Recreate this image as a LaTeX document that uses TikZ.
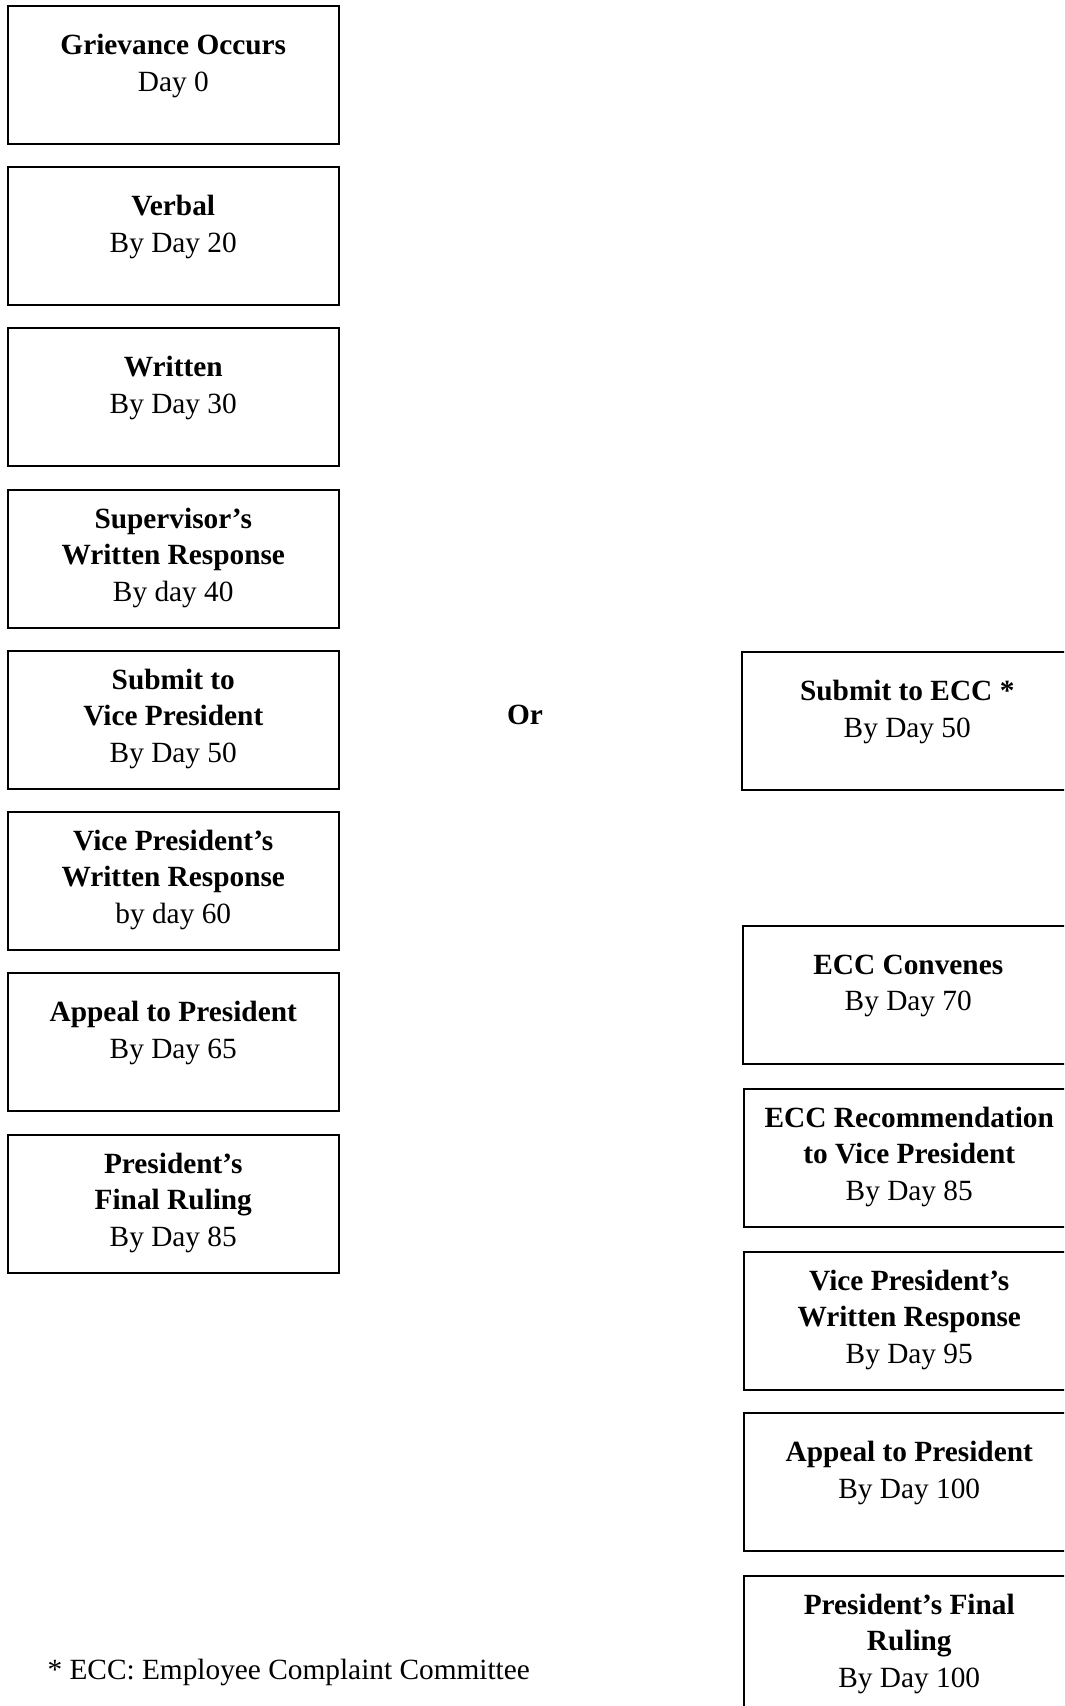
\documentclass[tikz,border=0pt]{standalone}
\usepackage{fontspec}
\setmainfont{Liberation Serif}
\begin{document}
\begin{tikzpicture}[x=0.375pt, y=-0.375pt,
	box/.style={draw, line width=0.6pt, anchor=north west, minimum width=124.1pt, minimum height=51.75pt, inner sep=0pt},
	lbl/.style={anchor=north, align=center, inner sep=0pt, font=\fontsize{11}{13.7}\selectfont}]
	\useasboundingbox (0,0) rectangle (1064,1706);
	\clip (0,0) rectangle (1064,1706);
	% left column
	\node[box] (grv) at (7,5) {};
	\node[lbl] (grvt) at ([yshift=-10.9pt]grv.north) {\textbf{Grievance Occurs}\\Day 0};
	\node[box] (verb) at (7,166) {};
	\node[lbl] (verbt) at ([yshift=-10.9pt]verb.north) {\textbf{Verbal}\\By Day 20};
	\node[box] (writ) at (7,327) {};
	\node[lbl] (writt) at ([yshift=-10.9pt]writ.north) {\textbf{Written}\\By Day 30};
	\node[box] (sup) at (7,489) {};
	\node[lbl] (supt) at ([yshift=-6.8pt]sup.north) {\textbf{Supervisor’s}\\\textbf{Written Response}\\By day 40};
	\node[box] (svp) at (7,650) {};
	\node[lbl] (svpt) at ([yshift=-6.8pt]svp.north) {\textbf{Submit to}\\\textbf{Vice President}\\By Day 50};
	\node[box] (vpr) at (7,811) {};
	\node[lbl] (vprt) at ([yshift=-6.8pt]vpr.north) {\textbf{Vice President’s}\\\textbf{Written Response}\\by day 60};
	\node[box] (app) at (7,972) {};
	\node[lbl] (appt) at ([yshift=-10.9pt]app.north) {\textbf{Appeal to President}\\By Day 65};
	\node[box] (fin) at (7,1134) {};
	\node[lbl] (fint) at ([yshift=-6.8pt]fin.north) {\textbf{President’s}\\\textbf{Final Ruling}\\By Day 85};
	% or
	\node[lbl, anchor=center] (or) at (525,715) {\textbf{Or}};
	% right column
	\node[box] (secc) at (741,651) {};
	\node[lbl] (secct) at ([yshift=-10.9pt]secc.north) {\textbf{Submit to ECC *}\\By Day 50};
	\node[box] (conv) at (742,925) {};
	\node[lbl] (convt) at ([yshift=-10.9pt]conv.north) {\textbf{ECC Convenes}\\By Day 70};
	\node[box] (rec) at (743,1088) {};
	\node[lbl] (rect) at ([yshift=-6.8pt]rec.north) {\textbf{ECC Recommendation}\\\textbf{to Vice President}\\By Day 85};
	\node[box] (vpr2) at (743,1251) {};
	\node[lbl] (vpr2t) at ([yshift=-6.8pt]vpr2.north) {\textbf{Vice President’s}\\\textbf{Written Response}\\By Day 95};
	\node[box] (app2) at (743,1412) {};
	\node[lbl] (app2t) at ([yshift=-10.9pt]app2.north) {\textbf{Appeal to President}\\By Day 100};
	\node[box] (fin2) at (743,1575) {};
	\node[lbl] (fin2t) at ([yshift=-6.8pt]fin2.north) {\textbf{President’s Final}\\\textbf{Ruling}\\By Day 100};
	% footnote
	\node[lbl, anchor=west] (note) at (47,1672) {* ECC: Employee Complaint Committee};
\end{tikzpicture}
\end{document}
